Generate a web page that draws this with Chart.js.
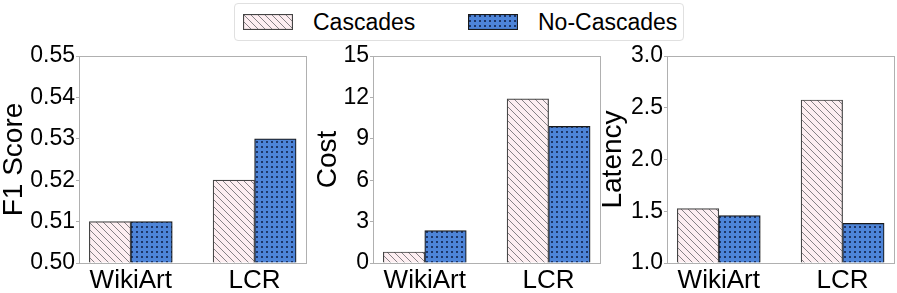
<!DOCTYPE html>
<html>
<head>
<meta charset="utf-8">
<script src="https://cdn.jsdelivr.net/npm/chart.js@4.4.1/dist/chart.umd.min.js"></script>
<style>
  body { margin:0; background:#fff; width:897px; height:293px; position:relative; overflow:hidden; font-family:'Liberation Sans', Arial, sans-serif; }
  canvas.panel { position:absolute; top:0; }
  #legend { position:absolute; left:234px; top:3px; width:450px; height:38px; border:1px solid #e0e0e0; border-radius:4px; box-sizing:border-box; }
  #legend canvas { position:absolute; top:10px; }
  #legend span { position:absolute; top:5px; font-size:23px; color:#000; line-height:26px; }
</style>
</head>
<body>
<div id="legend">
  <canvas id="sw0" width="50" height="16" style="left:8px"></canvas><span style="left:78px">Cascades</span>
  <canvas id="sw1" width="50" height="16" style="left:233px"></canvas><span style="left:303px">No-Cascades</span>
</div>
<canvas class="panel" id="c0" width="320" height="293" style="left:0px"></canvas>
<canvas class="panel" id="c1" width="300" height="293" style="left:310px"></canvas>
<canvas class="panel" id="c2" width="299" height="293" style="left:598px"></canvas>
<script>
const categories = ['WikiArt', 'LCR'];
const seriesNames = ['Cascades', 'No-Cascades'];

const f1Cascades = [0.51, 0.52];
const f1NoCascades = [0.51, 0.53];
const costCascades = [0.8, 11.9];
const costNoCascades = [2.35, 9.9];
const latencyCascades = [1.525, 2.575];
const latencyNoCascades = [1.457, 1.383];

const f1Ticks = [0.50, 0.51, 0.52, 0.53, 0.54, 0.55];
const costTicks = [0, 3, 6, 9, 12, 15];
const latencyTicks = [1.0, 1.5, 2.0, 2.5, 3.0];

const FONT = "'Liberation Sans', Arial, sans-serif";

function hatchPattern(ctx) {
    const c = document.createElement('canvas');
    c.width = 7; c.height = 7;
    const g = c.getContext('2d');
    g.fillStyle = '#fdeef1';
    g.fillRect(0, 0, 7, 7);
    g.strokeStyle = '#66646a';
    g.lineWidth = 0.8;
    g.beginPath();
    g.moveTo(-1, -1); g.lineTo(8, 8);
    g.moveTo(-1, 6); g.lineTo(1, 8);
    g.moveTo(6, -1); g.lineTo(8, 1);
    g.stroke();
    return ctx.createPattern(c, 'repeat');
}

function dotPattern(ctx) {
    const c = document.createElement('canvas');
    c.width = 5; c.height = 5;
    const g = c.getContext('2d');
    g.fillStyle = '#4d84d8';
    g.fillRect(0, 0, 5, 5);
    g.fillStyle = '#1d3566';
    g.fillRect(1, 1, 2, 2);
    return ctx.createPattern(c, 'repeat');
}

// legend swatches
[['sw0', hatchPattern, '#444'], ['sw1', dotPattern, '#1a1a1a']].forEach(([id, fn, edge]) => {
    const g = document.getElementById(id).getContext('2d');
    g.fillStyle = fn(g);
    g.fillRect(0, 0, 50, 16);
    g.strokeStyle = edge;
    g.lineWidth = 1.2;
    g.strokeRect(0.5, 0.5, 49, 15);
});

const frame = {
    id: 'frame',
    afterDraw(chart) {
        const a = chart.chartArea, g = chart.ctx;
        g.save();
        g.strokeStyle = '#b0b0b0';
        g.lineWidth = 1;
        g.strokeRect(Math.round(a.left) + 0.5, Math.round(a.top) + 0.5, Math.round(a.right - a.left), Math.round(a.bottom - a.top));
        g.restore();
    }
};

function makePanel(id, title, cas, nocas, ticks, digits, axisWidth, titlePad, padRight) {
    const ctx = document.getElementById(id).getContext('2d');
    const yMin = ticks[0], yMax = ticks[ticks.length - 1];
    const toPts = arr => arr.map((v, i) => ({x: i, y: v}));
    return new Chart(ctx, {
        type: 'bar',
        data: {
            datasets: [
                {label: seriesNames[0], data: toPts(cas), backgroundColor: hatchPattern(ctx), borderColor: '#444', borderWidth: 1.2, base: yMin, barThickness: 41.5},
                {label: seriesNames[1], data: toPts(nocas), backgroundColor: dotPattern(ctx), borderColor: '#1a1a1a', borderWidth: 1.2, base: yMin, barThickness: 41.5}
            ]
        },
        options: {
            responsive: false,
            animation: false,
            layout: {padding: {top: 56, right: padRight, bottom: 0, left: 0}},
            plugins: {legend: {display: false}, tooltip: {enabled: false}},
            scales: {
                x: {
                    type: 'linear', min: -0.418, max: 1.415, offset: false,
                    afterBuildTicks: s => { s.ticks = categories.map((c, i) => ({value: i})); },
                    afterFit: s => { s.height = 30; },
                    grid: {display: false},
                    border: {display: false},
                    ticks: {callback: v => categories[v], color: '#000', padding: -3, maxRotation: 0,
                            font: {family: FONT, size: 26, lineHeight: 1}}
                },
                y: {
                    min: yMin, max: yMax,
                    afterBuildTicks: s => { s.ticks = ticks.map(v => ({value: v})); },
                    afterFit: s => { s.width = axisWidth; },
                    grid: {drawOnChartArea: false, tickLength: 3, color: '#b0b0b0'},
                    border: {display: false},
                    ticks: {callback: v => v.toFixed(digits), color: '#000', padding: 1,
                            font: {family: FONT, size: 23}},
                    title: {display: true, text: title, color: '#000', padding: {top: titlePad, bottom: 0},
                            font: {family: FONT, size: 28, lineHeight: 1}}
                }
            }
        },
        plugins: [frame]
    });
}

makePanel('c0', 'F1 Score', f1Cascades, f1NoCascades, f1Ticks, 2, 79, 0, 14);
makePanel('c1', 'Cost', costCascades, costNoCascades, costTicks, 0, 63, 4, 10);
makePanel('c2', 'Latency', latencyCascades, latencyNoCascades, latencyTicks, 1, 69, 1, 3);
</script>
</body>
</html>
